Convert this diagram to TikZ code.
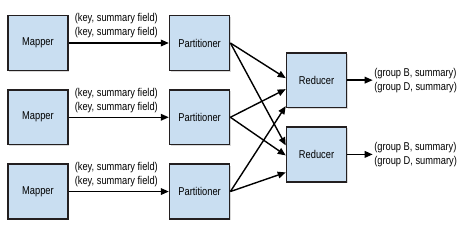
\documentclass[tikz,border=0pt]{standalone}
\usepackage{fontspec}
\setmainfont[FakeStretch=0.82]{Liberation Sans}
\usetikzlibrary{arrows.meta, positioning, shadows, calc}
\definecolor{boxblue}{HTML}{C9DEF1}
\definecolor{boxline}{HTML}{231F20}

\begin{document}
\begin{tikzpicture}[
    font=\fontsize{8.5}{10.5}\selectfont,
    node distance=13.5pt and 75pt,
    stage/.style={
        rectangle,
        draw=boxline,
        line width=1.2pt,
        fill=boxblue,
        align=center,
        minimum width=45pt,
        minimum height=41pt,
        drop shadow={shadow xshift=1pt, shadow yshift=-1pt, opacity=0.3}
    },
    pairs/.style={align=left, inner sep=1pt},
    arrow/.style={-{Triangle[length=6pt, width=5pt]}, line width=1.05pt}
]
\useasboundingbox (0,0) rectangle (355.5pt,-183pt);

\node[stage] (map1) at (28.5pt,-32.25pt) {Mapper};
\node[stage, below=of map1] (map2) {Mapper};
\node[stage, below=of map2] (map3) {Mapper};

\node[stage, right=of map1] (part1) {Partitioner};
\node[stage, right=of map2] (part2) {Partitioner};
\node[stage, right=of map3] (part3) {Partitioner};

\coordinate (mid12) at ($(part1)!0.5!(part2)$);
\coordinate (mid23) at ($(part2)!0.5!(part3)$);
\node[stage, right=64.6pt of mid12] (red1) {Reducer};
\node[stage, right=64.6pt of mid23] (red2) {Reducer};

\node[pairs, right=19pt of red1] (out1) {(group B, summary)\\(group D, summary)};
\node[pairs, right=19pt of red2] (out2) {(group B, summary)\\(group D, summary)};

\draw[arrow] (map1) -- node[pairs, pos=0, anchor=south west, xshift=3pt, yshift=2pt] {(key, summary field)\\(key, summary field)} (part1);
\draw[arrow] (map2) -- node[pairs, pos=0, anchor=south west, xshift=3pt, yshift=2pt] {(key, summary field)\\(key, summary field)} (part2);
\draw[arrow] (map3) -- node[pairs, pos=0, anchor=south west, xshift=3pt, yshift=2pt] {(key, summary field)\\(key, summary field)} (part3);

\draw[arrow] (part1.east) -- ([yshift=1.5pt]red1.west);
\draw[arrow] (part2.east) -- ([yshift=-6.75pt]red1.west);
\draw[arrow] (part3.east) -- ([yshift=-19.5pt]red1.west);

\draw[arrow] (part1.east) -- ([yshift=6.75pt]red2.west);
\draw[arrow] (part2.east) -- ([yshift=-0.75pt]red2.west);
\draw[arrow] (part3.east) -- ([yshift=-13.5pt]red2.west);

\draw[arrow] (red1) -- (out1);
\draw[arrow] (red2) -- (out2);

\end{tikzpicture}
\end{document}
